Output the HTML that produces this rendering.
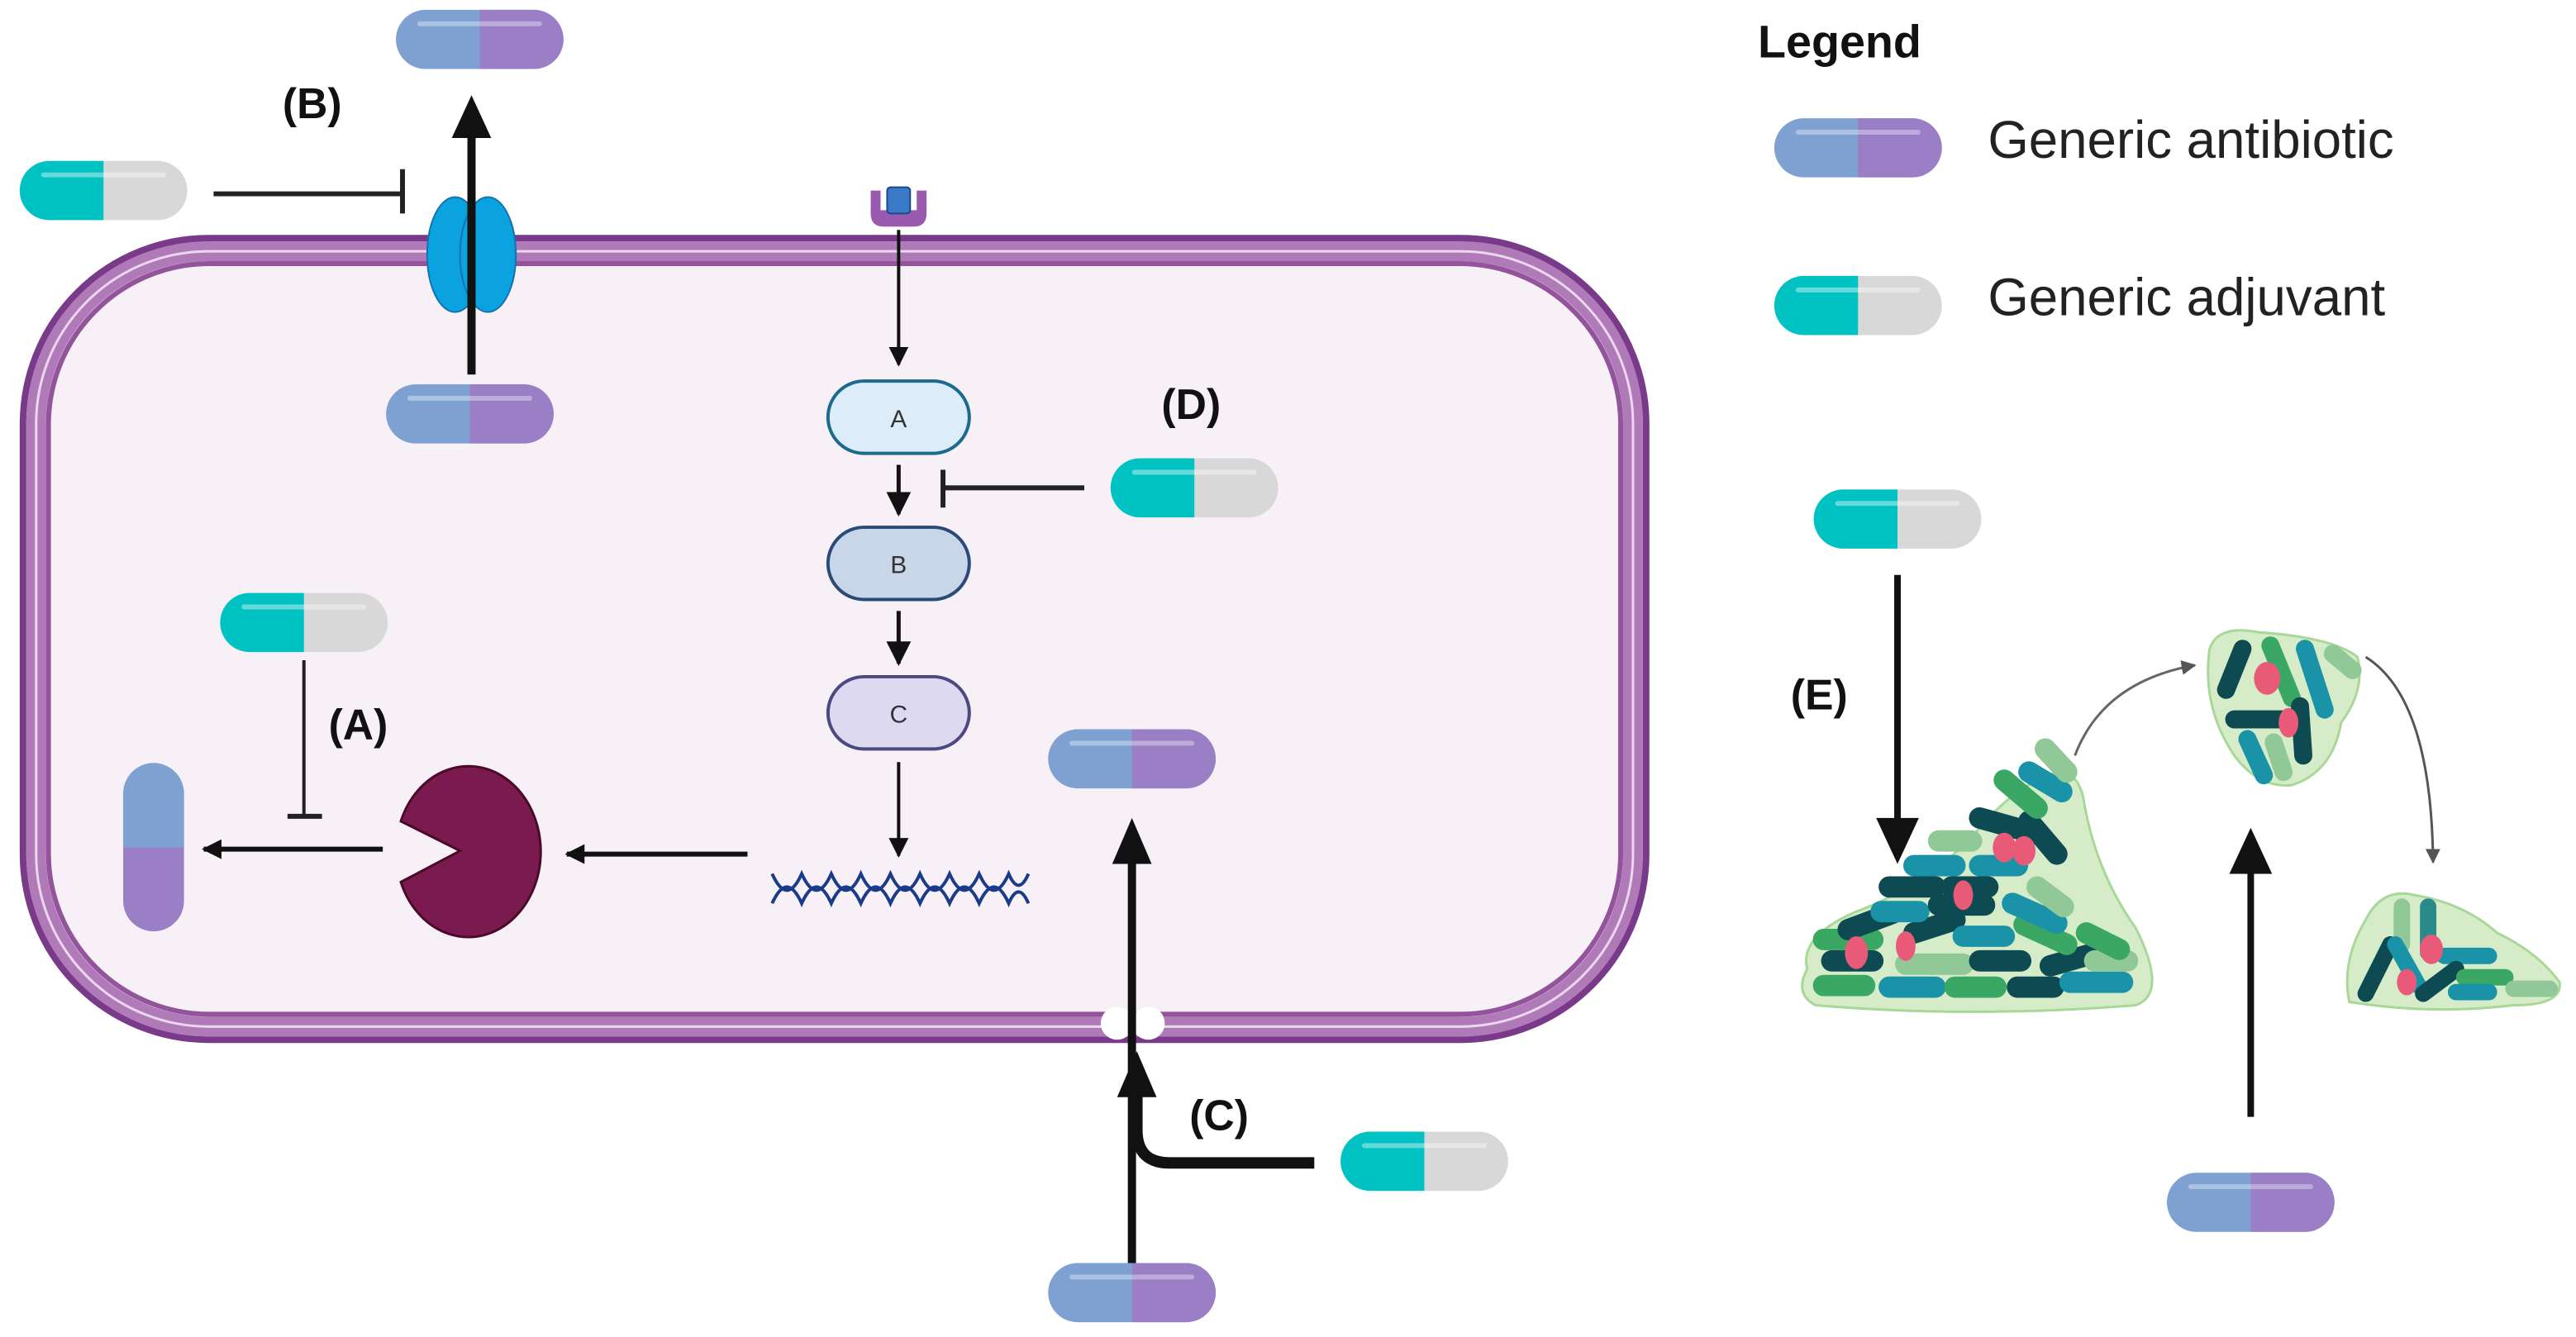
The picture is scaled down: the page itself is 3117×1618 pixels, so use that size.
<!DOCTYPE html>
<html><head><meta charset="utf-8"><style>
html,body{margin:0;padding:0;background:#fff;}
svg{display:block;}
text{font-family:"Liberation Sans",sans-serif;}
</style></head><body>
<svg width="3117" height="1618" viewBox="0 0 1568 814" preserveAspectRatio="none" xmlns="http://www.w3.org/2000/svg">
<defs>
<g id="ab">
<rect x="-51" y="-18" width="102" height="36" rx="18" fill="#7fa1d2"/>
<path d="M0,-18 H33 A18,18 0 0 1 33,18 H0 Z" fill="#9a7ec6"/>
<rect x="-38" y="-11" width="76" height="3" rx="1.5" fill="#fff" opacity="0.35"/>
</g>
<g id="adj">
<rect x="-51" y="-18" width="102" height="36" rx="18" fill="#d8d8d8"/>
<path d="M0,-18 H-33 A18,18 0 0 0 -33,18 H0 Z" fill="#00c2c2"/>
<rect x="-38" y="-11" width="76" height="3" rx="1.5" fill="#fff" opacity="0.4"/>
</g>
<marker id="ah" viewBox="0 0 10 10" refX="9" refY="5" markerWidth="4" markerHeight="4" orient="auto"><path d="M0,0 L10,5 L0,10Z" fill="#111"/></marker>
<marker id="ahs" viewBox="0 0 10 10" refX="9" refY="5" markerWidth="6" markerHeight="6" orient="auto"><path d="M0,0 L10,5 L0,10Z" fill="#111"/></marker>
<marker id="ahg" viewBox="0 0 10 10" refX="9" refY="5" markerWidth="6" markerHeight="6" orient="auto"><path d="M0,0 L10,5 L0,10Z" fill="#555"/></marker>
</defs>

<!-- cell -->
<rect x="14" y="145" width="988" height="488" rx="113" fill="#f7f0f6" stroke="#7a3a8a" stroke-width="4"/>
<rect x="22" y="153" width="972" height="472" rx="105" fill="none" stroke="#b07ab8" stroke-width="12"/>
<rect x="22" y="153" width="972" height="472" rx="105" fill="none" stroke="#ead8ec" stroke-width="1.5"/>
<rect x="29.5" y="160.5" width="957" height="457" rx="98" fill="none" stroke="#93549c" stroke-width="3"/>
<!-- gap for porin C -->
<circle cx="680" cy="623" r="10" fill="#fff"/><circle cx="699" cy="623" r="10" fill="#fff"/>

<!-- B -->
<use href="#ab" x="292" y="24"/>
<text x="172" y="72" font-size="26" font-weight="bold" fill="#111">(B)</text>
<use href="#adj" x="63" y="116"/>
<path d="M130,118 H244" stroke="#222" stroke-width="3"/>
<path d="M245,103 V130" stroke="#222" stroke-width="3"/>
<ellipse cx="277" cy="155" rx="17" ry="35" fill="#0aa3e0" stroke="#1572b0" stroke-width="1"/>
<ellipse cx="297" cy="155" rx="17" ry="35" fill="#0aa3e0" stroke="#1572b0" stroke-width="1"/>
<path d="M287,228 V80" stroke="#111" stroke-width="5"/>
<path d="M275,84 L287,58 L299,84Z" fill="#111"/>
<use href="#ab" x="286" y="252"/>

<!-- receptor -->
<path d="M530,116 V130 Q530,138 538,138 H556 Q564,138 564,130 V116 H558 V128 H536 V116Z" fill="#9a5ab0"/>
<rect x="540" y="114" width="14" height="16" rx="2" fill="#3a7ac8" stroke="#1a4a8a"/>
<path d="M547,140 V222" stroke="#111" stroke-width="2" marker-end="url(#ahs)"/>

<rect x="504" y="232" width="86" height="44" rx="22" fill="#dcedf9" stroke="#1c6a8c" stroke-width="2"/>
<text x="547" y="260" font-size="15" text-anchor="middle" fill="#333">A</text>
<rect x="504" y="321" width="86" height="44" rx="22" fill="#c9d5e8" stroke="#2a4a78" stroke-width="2"/>
<text x="547" y="349" font-size="15" text-anchor="middle" fill="#333">B</text>
<rect x="504" y="412" width="86" height="44" rx="22" fill="#ddd9f1" stroke="#4a4a80" stroke-width="2"/>
<text x="547" y="440" font-size="15" text-anchor="middle" fill="#333">C</text>
<path d="M547,283 V313" stroke="#111" stroke-width="2.5" marker-end="url(#ahs)"/>
<path d="M547,372 V404" stroke="#111" stroke-width="2.5" marker-end="url(#ahs)"/>
<path d="M547,464 V521" stroke="#111" stroke-width="2" marker-end="url(#ahs)"/>

<!-- DNA -->
<g stroke="#1a3a8a" stroke-width="2" fill="none">
<path d="M470,532 Q479,552 488,532 Q497,552 506,532 Q515,552 524,532 Q533,552 542,532 Q551,552 560,532 Q569,552 578,532 Q587,552 596,532 Q605,552 614,532 Q620,546 626,532"/>
<path d="M470,550 Q479,530 488,550 Q497,530 506,550 Q515,530 524,550 Q533,530 542,550 Q551,530 560,550 Q569,530 578,550 Q587,530 596,550 Q605,530 614,550 Q620,536 626,550"/>
</g>

<!-- D -->
<text x="707" y="255" font-size="26" font-weight="bold" fill="#111">(D)</text>
<use href="#adj" x="727" y="297"/>
<path d="M660,297 H574" stroke="#222" stroke-width="3"/>
<path d="M574,286 V309" stroke="#222" stroke-width="3"/>

<!-- A -->
<use href="#adj" x="185" y="379"/>
<path d="M185,402 V496" stroke="#222" stroke-width="2"/>
<path d="M175,497 H196" stroke="#222" stroke-width="3"/>
<text x="200" y="450" font-size="26" font-weight="bold" fill="#111">(A)</text>
<path d="M280,518 L244,500 A44,52 0 1 1 244,537 Z" fill="#7a1a4e" stroke="#4a0a2a" stroke-width="1.5"/>
<path d="M455,520 H345" stroke="#111" stroke-width="3" marker-end="url(#ah)"/>
<path d="M233,517 H124" stroke="#111" stroke-width="3" marker-end="url(#ah)"/>
<rect x="75" y="465" width="37" height="102" rx="18.5" fill="#9a7ec6"/>
<path d="M75,516 V483 A18.5,18.5 0 0 1 112,483 V516Z" fill="#7fa1d2"/>

<!-- C -->
<use href="#ab" x="689" y="462"/>
<path d="M689,776 V522" stroke="#111" stroke-width="5"/>
<path d="M677,526 L689,498 L701,526Z" fill="#111"/>
<path d="M800,708 H712 Q692,708 692,688 V665" stroke="#111" stroke-width="7" fill="none"/>
<path d="M680,668 L692,640 L704,668Z" fill="#111"/>
<text x="724" y="688" font-size="26" font-weight="bold" fill="#111">(C)</text>
<use href="#adj" x="867" y="707"/>
<use href="#ab" x="689" y="787"/>

<!-- legend -->
<text x="1070" y="35" font-size="28" font-weight="bold" fill="#111">Legend</text>
<use href="#ab" x="1131" y="90"/>
<text x="1210" y="96" font-size="32" fill="#222">Generic antibiotic</text>
<use href="#adj" x="1131" y="186"/>
<text x="1210" y="192" font-size="32" fill="#222">Generic adjuvant</text>

<!-- E -->
<use href="#adj" x="1155" y="316"/>
<path d="M1155,350 V500" stroke="#111" stroke-width="4"/>
<path d="M1142,498 L1155,526 L1168,498Z" fill="#111"/>
<text x="1090" y="432" font-size="26" font-weight="bold" fill="#111">(E)</text>
<use href="#ab" x="1370" y="732"/>
<path d="M1370,680 V530" stroke="#111" stroke-width="4"/>
<path d="M1357,532 L1370,504 L1383,532Z" fill="#111"/>
<path d="M1263,460 Q1280,415 1336,405" stroke="#666" stroke-width="1.5" fill="none" marker-end="url(#ahg)"/>
<path d="M1440,400 Q1480,425 1481,525" stroke="#555" stroke-width="1.5" fill="none" marker-end="url(#ahg)"/>

<!-- big biofilm -->
<path d="M1100,590 Q1095,570 1130,555 Q1170,540 1200,510 Q1220,485 1240,475 Q1262,462 1268,485 Q1275,530 1300,565 Q1320,605 1300,612 Q1200,620 1105,612 Q1092,605 1100,590Z" fill="#d6ebc8" stroke="#a8d898" stroke-width="1.5"/>
<g stroke-linecap="round" stroke-width="13">
<path d="M1110,600 H1135" stroke="#3aa864"/><path d="M1150,601 H1178" stroke="#1a93a8"/><path d="M1190,601 H1215" stroke="#3aa864"/><path d="M1228,601 H1250" stroke="#0d4a52"/><path d="M1260,598 H1292" stroke="#1a93a8"/>
<path d="M1115,585 H1140" stroke="#0d4a52"/><path d="M1160,587 H1195" stroke="#90c898"/><path d="M1205,585 H1230" stroke="#0d4a52"/><path d="M1248,588 L1276,580" stroke="#0d4a52"/><path d="M1275,585 H1295" stroke="#90c898"/>
<path d="M1110,572 H1140" stroke="#3aa864"/><path d="M1125,566 L1152,556" stroke="#0d4a52"/><path d="M1165,568 L1190,560" stroke="#0d4a52"/><path d="M1195,570 H1220" stroke="#1a93a8"/><path d="M1232,563 L1258,575" stroke="#3aa864"/><path d="M1270,568 L1290,578" stroke="#3aa864"/>
<path d="M1145,555 H1168" stroke="#1a93a8"/><path d="M1180,551 H1208" stroke="#0d4a52"/><path d="M1225,550 L1252,562" stroke="#1a93a8"/>
<path d="M1150,540 H1178" stroke="#0d4a52"/><path d="M1188,540 H1210" stroke="#0d4a52"/><path d="M1240,540 L1256,552" stroke="#90c898"/>
<path d="M1165,527 H1190" stroke="#1a93a8"/><path d="M1205,527 H1228" stroke="#1a93a8"/>
<path d="M1180,512 H1200" stroke="#90c898"/><path d="M1205,498 L1230,505" stroke="#0d4a52"/><path d="M1235,500 L1252,520" stroke="#0d4a52"/>
<path d="M1220,475 L1240,492" stroke="#3aa864"/><path d="M1235,470 L1255,482" stroke="#1a93a8"/><path d="M1245,456 L1258,470" stroke="#90c898"/>
</g>
<g fill="#e85a78"><ellipse cx="1130" cy="580" rx="7" ry="10"/><ellipse cx="1220" cy="516" rx="7" ry="9"/><ellipse cx="1232" cy="518" rx="7" ry="9"/><ellipse cx="1195" cy="545" rx="6" ry="9"/><ellipse cx="1160" cy="576" rx="6" ry="9"/></g>

<!-- mid biofilm -->
<path d="M1345,395 Q1350,380 1375,385 Q1420,388 1435,400 Q1440,420 1425,440 Q1420,470 1395,478 Q1375,480 1360,460 Q1340,430 1345,395Z" fill="#d6ebc8" stroke="#a8d898" stroke-width="1.5"/>
<g stroke-linecap="round" stroke-width="11">
<path d="M1420,398 L1432,408" stroke="#90c898"/><path d="M1365,395 L1355,420" stroke="#0d4a52"/><path d="M1382,393 L1395,425" stroke="#3aa864"/><path d="M1403,395 L1415,432" stroke="#1a93a8"/><path d="M1360,438 H1390" stroke="#0d4a52"/><path d="M1400,430 L1402,460" stroke="#0d4a52"/><path d="M1368,450 L1378,472" stroke="#1a93a8"/><path d="M1384,452 L1390,470" stroke="#90c898"/>
</g>
<g fill="#e85a78"><ellipse cx="1380" cy="413" rx="8" ry="10"/><ellipse cx="1393" cy="440" rx="6" ry="9"/></g>

<!-- small biofilm -->
<path d="M1430,610 Q1425,585 1440,560 Q1450,540 1470,545 Q1500,550 1520,568 Q1545,580 1558,598 Q1560,612 1530,612 Q1480,618 1430,610Z" fill="#d6ebc8" stroke="#a8d898" stroke-width="1.5"/>
<g stroke-linecap="round" stroke-width="10">
<path d="M1462,552 V575" stroke="#90c898"/><path d="M1478,552 V580" stroke="#2a8a8a"/><path d="M1440,605 L1455,575" stroke="#0d4a52"/><path d="M1458,575 L1472,600" stroke="#1a93a8"/><path d="M1488,582 H1515" stroke="#1a93a8"/><path d="M1475,605 L1495,590" stroke="#0d4a52"/><path d="M1500,595 H1525" stroke="#3aa864"/><path d="M1495,604 H1515" stroke="#1a93a8"/><path d="M1530,602 H1552" stroke="#90c898"/>
</g>
<g fill="#e85a78"><ellipse cx="1480" cy="578" rx="7" ry="9"/><ellipse cx="1465" cy="598" rx="6" ry="8"/></g>
</svg>
</body></html>
